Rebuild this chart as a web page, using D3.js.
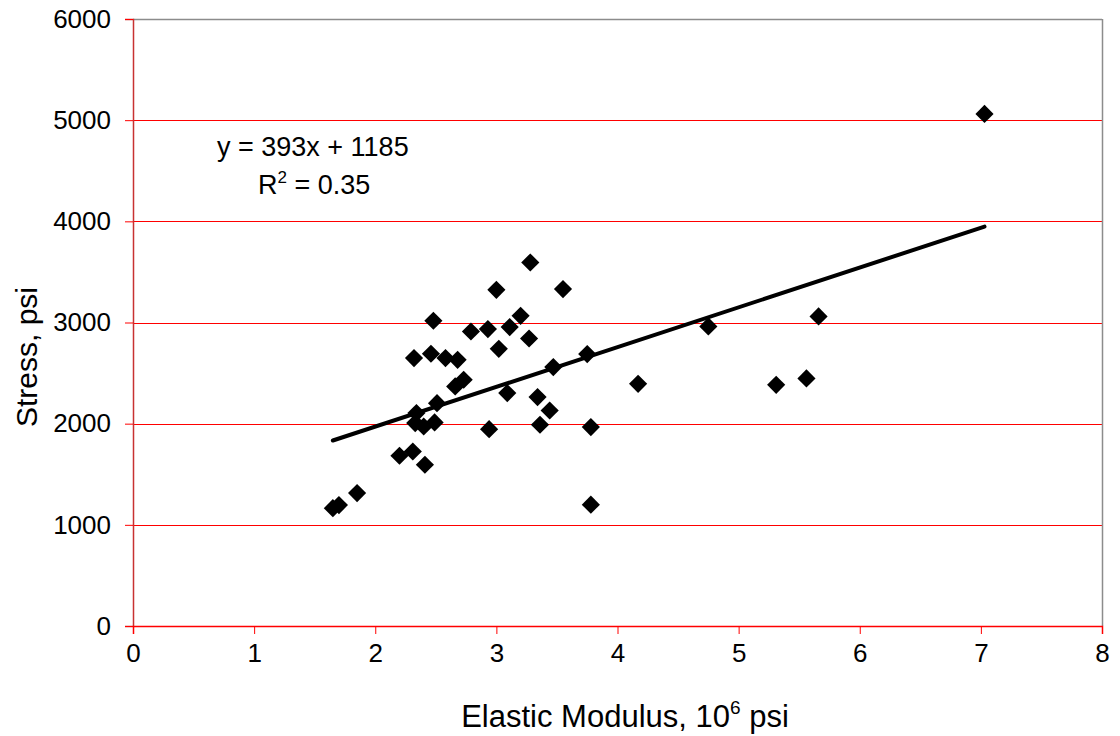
<!DOCTYPE html>
<html>
<head>
<meta charset="utf-8">
<script src="https://cdn.jsdelivr.net/npm/d3@7"></script>
<style>
  body { margin: 0; background: #fff; }
  svg { display: block; font-family: "Liberation Sans", Arial, sans-serif; }
</style>
</head>
<body>
<div id="chart"></div>
<script>
// Elastic modulus (10^6 psi) vs stress (psi)
const modulus = [1.65, 1.70, 1.85, 2.20, 2.31, 2.41, 2.33, 2.40, 2.49, 2.34,
                 2.51, 2.32, 2.46, 2.58, 2.68, 2.48, 2.66, 2.73, 2.79, 2.93,
                 2.94, 3.00, 3.02, 3.09, 3.11, 3.20, 3.27, 3.28, 3.34, 3.36,
                 3.44, 3.47, 3.55, 3.75, 3.78, 3.78, 4.17, 4.75, 5.31, 5.56,
                 5.66, 7.03];
const stress = [1165, 1195, 1314, 1683, 1725, 1594, 2006, 1972, 2012, 2105,
                2203, 2648, 2691, 2648, 2631, 3017, 2368, 2434, 2911, 2935,
                1946, 3323, 2740, 2302, 2955, 3066, 2842, 3593, 2263, 1989,
                2130, 2559, 3330, 2688, 1966, 1199, 2394, 2961, 2384, 2447,
                3060, 5062];
const trendCoef = [393, 1185]; // slope, intercept
const rSquared = "0.35";
const xTicks = [0, 1, 2, 3, 4, 5, 6, 7, 8];
const yTicks = [0, 1000, 2000, 3000, 4000, 5000, 6000];

const w = 1120, h = 736;
const m = {top: 19, right: 18, bottom: 110, left: 133};
const iw = w - m.left - m.right, ih = h - m.top - m.bottom;

const points = modulus.map((x, i) => ({x: x, y: stress[i]}));

const x = d3.scaleLinear().domain([0, 8]).range([0, iw]);
const y = d3.scaleLinear().domain([0, 6000]).range([ih, 0]);

const svg = d3.select('#chart').append('svg')
  .attr('width', w).attr('height', h);
svg.append('rect').attr('width', w).attr('height', h).attr('fill', '#fff');

const g = svg.append('g').attr('transform', `translate(${m.left},${m.top})`);

// gridlines
g.selectAll('line.grid')
  .data(yTicks.filter(t => t > 0 && t < 6000))
  .enter().append('line')
  .attr('class', 'grid')
  .attr('x1', 0).attr('x2', iw)
  .attr('y1', d => Math.round(y(d)) + 0.5).attr('y2', d => Math.round(y(d)) + 0.5)
  .attr('stroke', '#ff0000').attr('stroke-width', 1);

// frame top / right
g.append('line').attr('x1', 0).attr('x2', iw).attr('y1', 0.5).attr('y2', 0.5)
  .attr('stroke', '#8c8c8c').attr('stroke-width', 1.5);
g.append('line').attr('x1', iw + 0.5).attr('x2', iw + 0.5).attr('y1', 0).attr('y2', ih)
  .attr('stroke', '#8c8c8c').attr('stroke-width', 1.5);

// axes
const yAxis = g.append('g')
  .call(d3.axisLeft(y).tickValues(yTicks).tickSize(8).tickPadding(14).tickFormat(d3.format('d')));
yAxis.select('.domain').attr('stroke', '#c83232').attr('stroke-width', 1.5);
yAxis.selectAll('.tick line').attr('stroke', '#ff0000');
yAxis.selectAll('.tick text').attr('font-size', 26).attr('fill', '#000')
  .attr('font-family', '"Liberation Sans", Arial, sans-serif');

const xAxis = g.append('g').attr('transform', `translate(0,${ih})`)
  .call(d3.axisBottom(x).tickValues(xTicks).tickSize(8).tickPadding(10).tickFormat(d3.format('d')));
xAxis.select('.domain').attr('stroke', '#ff0000').attr('stroke-width', 1.5);
xAxis.selectAll('.tick line').attr('stroke', '#ff0000');
xAxis.selectAll('.tick text').attr('font-size', 26).attr('fill', '#000')
  .attr('font-family', '"Liberation Sans", Arial, sans-serif');

// trend line
const xr = d3.extent(modulus);
g.append('line')
  .attr('x1', x(xr[0])).attr('y1', y(trendCoef[0] * xr[0] + trendCoef[1]))
  .attr('x2', x(xr[1])).attr('y2', y(trendCoef[0] * xr[1] + trendCoef[1]))
  .attr('stroke', '#000').attr('stroke-width', 4).attr('stroke-linecap', 'round');

// markers
g.selectAll('path.pt')
  .data(points)
  .enter().append('path')
  .attr('class', 'pt')
  .attr('d', d3.symbol(d3.symbolSquare, 165))
  .attr('transform', d => `translate(${x(d.x)},${y(d.y)}) rotate(45)`)
  .attr('fill', '#000');

// equation
const eq = svg.append('text').attr('font-size', 27).attr('fill', '#000');
eq.append('tspan').attr('x', 217).attr('y', 156).text(`y = ${trendCoef[0]}x + ${trendCoef[1]}`);
const r2 = svg.append('text').attr('font-size', 27).attr('fill', '#000').attr('x', 258).attr('y', 194);
r2.append('tspan').text('R');
r2.append('tspan').attr('font-size', 17).attr('dy', -11).text('2');
r2.append('tspan').attr('dy', 11).text(' = ' + rSquared);

// axis titles
const xt = svg.append('text').attr('font-size', 31).attr('fill', '#000')
  .attr('text-anchor', 'middle').attr('x', 625).attr('y', 727);
xt.append('tspan').text('Elastic Modulus, 10');
xt.append('tspan').attr('font-size', 19).attr('dy', -13).text('6');
xt.append('tspan').attr('dy', 13).text(' psi');

svg.append('text').attr('font-size', 30).attr('fill', '#000')
  .attr('text-anchor', 'middle')
  .attr('transform', `translate(37,357) rotate(-90)`)
  .text('Stress, psi');
</script>
</body>
</html>
